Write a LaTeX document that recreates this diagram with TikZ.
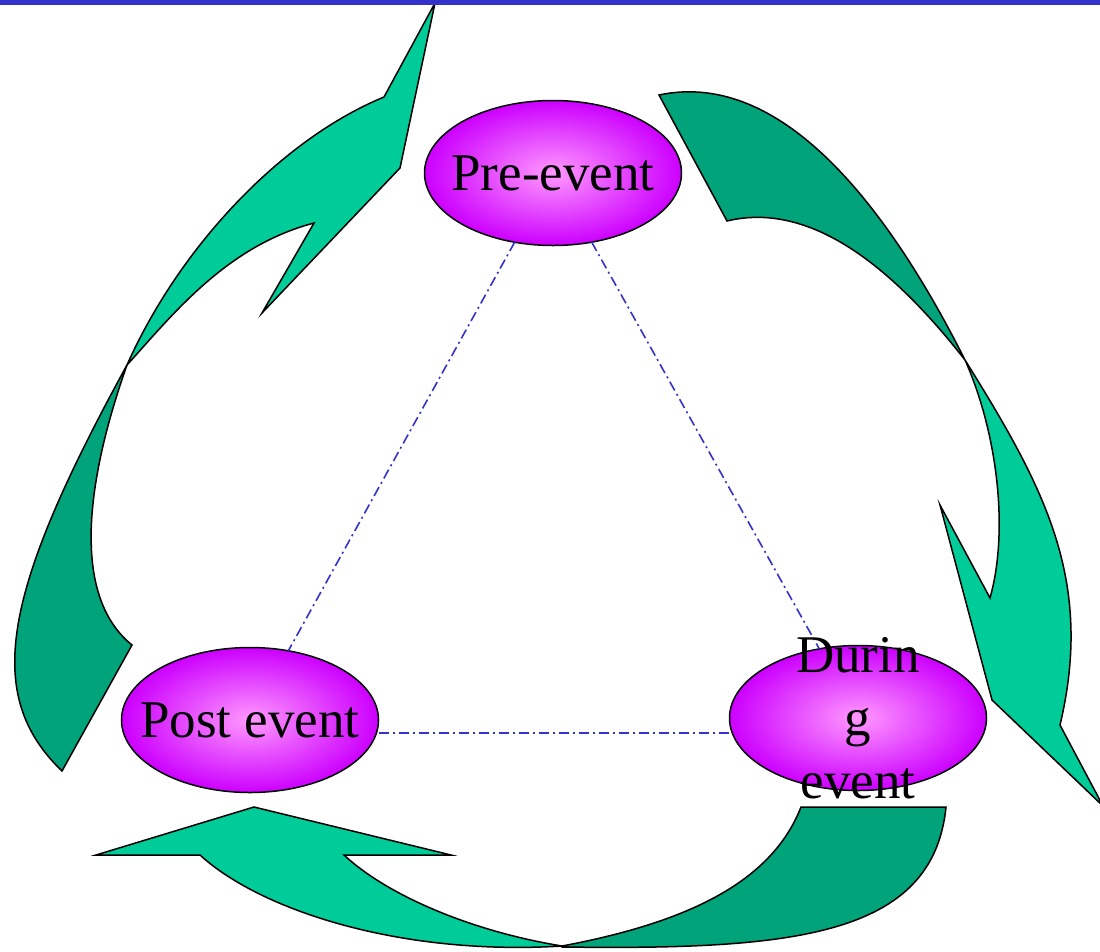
\documentclass[tikz,border=0pt]{standalone}
\usepackage{fontspec}
\setmainfont{Liberation Serif}
\usetikzlibrary{shapes.geometric}
\definecolor{lightg}{RGB}{0,204,153}
\definecolor{darkg}{RGB}{0,163,122}
\definecolor{linkblue}{RGB}{51,51,204}
\definecolor{ellin}{RGB}{255,153,255}
\definecolor{ellout}{RGB}{204,0,255}
\begin{document}
\begin{tikzpicture}[x=1pt,y=-1pt,
  front/.style={fill=lightg,draw=black,line width=1.5pt,line join=miter},
  back/.style={fill=darkg,draw=black,line width=1.5pt,line join=miter},
  evt/.style={ellipse,draw=black,line width=1.5pt,inner color=ellin,outer color=ellout,
     minimum width=257pt,minimum height=145pt,inner sep=0pt,outer sep=0pt},
  evtlabel/.style={font=\fontsize{53}{63}\selectfont,align=center,inner sep=0pt},
  link/.style={draw=linkblue,line width=1.6pt,dash pattern=on 10pt off 4pt on 2pt off 4pt},
  topbar/.style={fill=linkblue,draw=none}]
\useasboundingbox (0,0) rectangle (1100,951);
\fill[white] (0,0) rectangle (1100,951);

% ---- left curved arrow (back part)
\path[back] (127,365) .. controls (2,593) and (-17,695) .. (62,771)
  -- (132,645) .. controls (70,595) and (87,478) .. (127,365) -- cycle;
% ---- left curved arrow (front part)
\path[front] (127,365) .. controls (180,246) and (282,139) .. (384,97)
  -- (435,3) -- (400,168) -- (262,313) -- (314,223)
  .. controls (227,246) and (174,313) .. (127,365) -- cycle;

% ---- right curved arrow (back part)
\path[back] (659,95) .. controls (786,68) and (893,217) .. (965,360)
  .. controls (897,273) and (814,200) .. (727,221) -- cycle;
% ---- right curved arrow (front part)
\path[front] (965,360) .. controls (1044,487) and (1094.5,579.5) .. (1060,725)
  -- (1103,806) -- (992,700) -- (940,505) -- (990,598)
  .. controls (1009,530.7) and (997.5,433) .. (965,360) -- cycle;

% ---- bottom curved arrow (back part)
\path[back] (562,946) .. controls (690,922) and (772,881) .. (801,807)
  -- (946,807) .. controls (933,937) and (792,950) .. (562,947) -- cycle;
% ---- bottom curved arrow (front part)
\path[front] (96,855) -- (254,807) -- (451,855) -- (344,855)
  .. controls (388,896) and (473,931.6) .. (562,946)
  .. controls (400,956) and (260,910) .. (200,855) -- cycle;

% ---- event ellipses
\node[evt] (pre) at (553,173) {};
\node[evt] (post) at (250,720) {};
\node[evt] (during) at (858,718) {};

% ---- dash-dotted links
\draw[link] (pre) -- (post);
\draw[link] (pre) -- (during);
\draw[link] ([yshift=-13pt]post.east) -- ([yshift=-13pt]post.east -| during.west);

% ---- labels
\node[evtlabel] (prelabel) at (pre.center) {Pre-event};
\node[evtlabel] (postlabel) at (post.center) {Post event};
\node[evtlabel] (duringlabel) at (during.center) {Durin\\g\\event};

% ---- top bar
\path[topbar] (0,0) rectangle (1100,5);
\end{tikzpicture}
\end{document}
